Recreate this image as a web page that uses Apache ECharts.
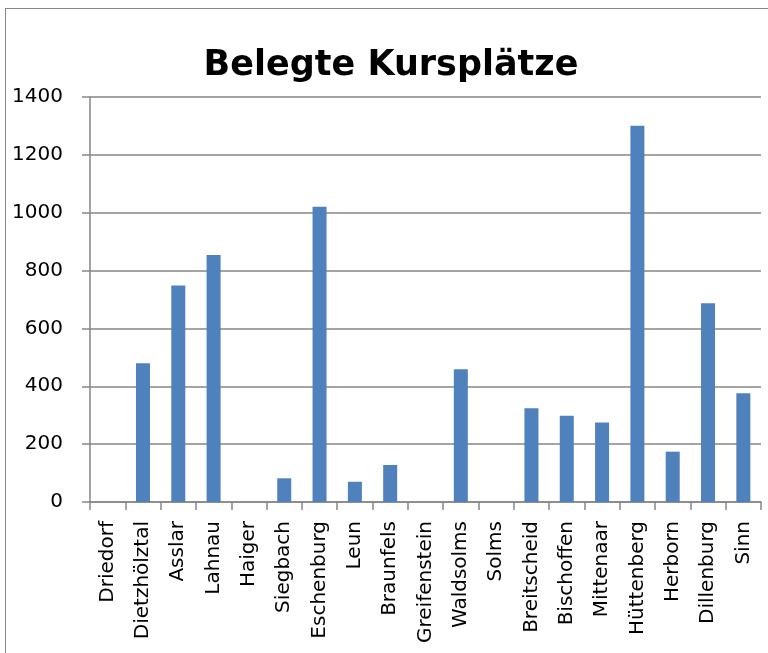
<!DOCTYPE html>
<html>
<head>
<meta charset="utf-8">
<script src="https://cdn.jsdelivr.net/npm/echarts@6/dist/echarts.min.js"></script>
<style>
  html, body { margin: 0; padding: 0; background: #fff; }
  #frame { position: absolute; left: 5px; top: 8px; width: 780px; height: 660px; border-left: 1px solid #888; border-top: 1px solid #888; }
  #chart { width: 768px; height: 653px; }
</style>
</head>
<body>
<div id="frame"></div>
<div id="chart"></div>
<script>
// ==================== DATA ====================
const orte = ['Driedorf', 'Dietzhölztal', 'Asslar', 'Lahnau', 'Haiger', 'Siegbach', 'Eschenburg', 'Leun', 'Braunfels', 'Greifenstein',
  'Waldsolms', 'Solms', 'Breitscheid', 'Bischoffen', 'Mittenaar', 'Hüttenberg', 'Herborn', 'Dillenburg', 'Sinn'];
const plaetze = [0, 480, 748, 854, 0, 82, 1021, 70, 128, 0, 459, 0, 324, 298, 275, 1301, 174, 687, 376];
const titel = 'Belegte Kursplätze';

const chart = echarts.init(document.getElementById('chart'));
const axisC = '#868686', font = '"DejaVu Sans", sans-serif';

chart.setOption({
  backgroundColor: 'transparent',
  animation: false,
  title: { text: titel, left: 386, top: 43, textAlign: 'center', textStyle: { fontFamily: font, fontSize: 35, fontWeight: 'bold', color: '#000' } },
  grid: { left: 90, right: 7, top: 97, bottom: 151 },
  xAxis: {
    type: 'category', data: orte,
    axisLine: { lineStyle: { color: axisC, width: 1.5 } },
    axisTick: { show: true, length: 8, lineStyle: { color: axisC, width: 1.5 } },
    axisLabel: { rotate: 90, interval: 0, margin: 19, color: '#000', fontFamily: font, fontSize: 20 }
  },
  yAxis: {
    type: 'value', min: 0, max: 1400, interval: 200,
    axisLine: { show: true, lineStyle: { color: axisC, width: 1.5 } },
    axisTick: { show: true, length: 8, lineStyle: { color: axisC, width: 1.5 } },
    axisLabel: { margin: 27, color: '#000', fontFamily: font, fontSize: 20, formatter: v => String(v) },
    splitLine: { lineStyle: { color: axisC, width: 1.5 } }
  },
  series: [
    { type: 'bar', data: plaetze, barWidth: 14, itemStyle: { color: '#4F81BD' } }
  ]
});
</script>
</body>
</html>
